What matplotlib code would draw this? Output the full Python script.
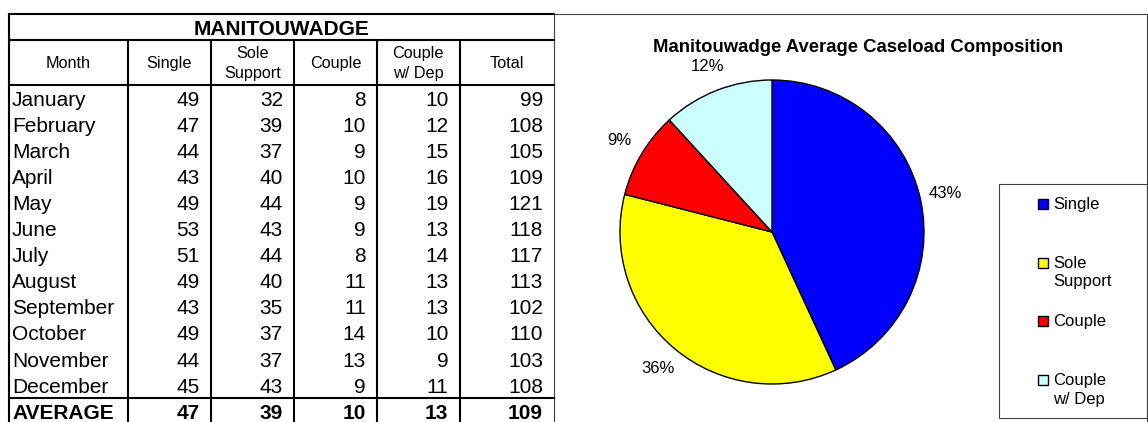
import matplotlib

matplotlib.use("Agg")
import matplotlib.pyplot as plt
from matplotlib.patches import Rectangle

MONTHS = ["January", "February", "March", "April", "May", "June", "July",
          "August", "September", "October", "November", "December"]
SINGLE = [49, 47, 44, 43, 49, 53, 51, 49, 43, 49, 44, 45]
SOLE_SUPPORT = [32, 39, 37, 40, 44, 43, 44, 40, 35, 37, 37, 43]
COUPLE = [8, 10, 9, 10, 9, 9, 8, 11, 11, 14, 13, 9]
COUPLE_DEP = [10, 12, 15, 16, 19, 13, 14, 13, 13, 10, 9, 11]
TOTAL = [99, 108, 105, 109, 121, 118, 117, 113, 102, 110, 103, 108]

HEADERS = ["Month", "Single", "Sole\nSupport", "Couple", "Couple\nw/ Dep", "Total"]
CATEGORIES = ["Single", "Sole\nSupport", "Couple", "Couple\nw/ Dep"]
COLORS = ["#0000FF", "#FFFF00", "#FF0000", "#CCFFFF"]

FONT = "Liberation Sans"
W, H = 1148, 422

# table layout (pixels)
COL_EDGES = [8.5, 127.5, 210.5, 294, 377, 459.5, 554]
TITLE_TOP, TITLE_BOTTOM, HEADER_BOTTOM = 13.5, 40, 85
ROW_H = 26.1
THICK = 1.5


def mean_int(values):
    return int(sum(values) / len(values) + 0.5)


def draw_table(bg):
    columns = [SINGLE, SOLE_SUPPORT, COUPLE, COUPLE_DEP, TOTAL]
    left, right = COL_EDGES[0], COL_EDGES[-1]
    avg_top = HEADER_BOTTOM + ROW_H * len(MONTHS)
    bottom = avg_top + ROW_H + 5

    # borders
    bg.plot([left, right], [TITLE_TOP, TITLE_TOP], color="black", lw=THICK)
    bg.plot([left, left], [TITLE_TOP, bottom], color="black", lw=THICK)
    for y in (TITLE_BOTTOM, HEADER_BOTTOM, avg_top):
        bg.plot([left, right], [y, y], color="black", lw=THICK)
    for x in COL_EDGES[1:-1]:
        bg.plot([x, x], [TITLE_BOTTOM, bottom], color="black", lw=THICK)

    bg.text((left + right) / 2, (TITLE_TOP + TITLE_BOTTOM) / 2 + 1, "MANITOUWADGE",
            ha="center", va="center_baseline", fontsize=15, fontweight="bold",
            family=FONT)

    for i, head in enumerate(HEADERS):
        bg.text((COL_EDGES[i] + COL_EDGES[i + 1]) / 2, (TITLE_BOTTOM + HEADER_BOTTOM) / 2 + 1,
                head, ha="center", va="center", fontsize=11.7, family=FONT,
                linespacing=1.35)

    rows = [(m, [c[r] for c in columns]) for r, m in enumerate(MONTHS)]
    rows.append(("AVERAGE", [mean_int(c) for c in columns]))
    for r, (label, vals) in enumerate(rows):
        y = HEADER_BOTTOM + ROW_H * (r + 0.5)
        weight = "bold" if label == "AVERAGE" else "normal"
        bg.text(COL_EDGES[0] + 3.5, y, label, ha="left", va="center_baseline",
                fontsize=15, fontweight=weight, family=FONT)
        for j, v in enumerate(vals):
            bg.text(COL_EDGES[j + 2] - 11, y, str(v), ha="right", va="center_baseline",
                    fontsize=15, fontweight=weight, family=FONT)


def draw_chart(fig, bg):
    # chart frame
    bg.add_patch(Rectangle((554, 13.5), 593, 430, fill=False, edgecolor="#404040", lw=0.8))
    bg.text(858, 45, "Manitouwadge Average Caseload Composition", ha="center",
            va="center_baseline", fontsize=13.3, fontweight="bold", family=FONT)

    averages = [sum(SINGLE), sum(SOLE_SUPPORT), sum(COUPLE), sum(COUPLE_DEP)]
    cx, cy, radius, half = 772, 232, 152, 200
    ax = fig.add_axes([(cx - half) / W, (H - cy - half) / H, 2 * half / W, 2 * half / H])
    ax.pie(averages, colors=COLORS, startangle=90, counterclock=False,
           autopct="%1.0f%%", pctdistance=1.17,
           wedgeprops={"edgecolor": "black", "linewidth": 1.0},
           textprops={"fontsize": 12, "family": FONT})
    lim = half / radius
    ax.set_xlim(-lim, lim)
    ax.set_ylim(-lim, lim)
    ax.axis("off")

    # legend box
    bg.add_patch(Rectangle((999, 184), 148, 234, fill=False, edgecolor="#404040", lw=0.8))
    for i, (label, color) in enumerate(zip(CATEGORIES, COLORS)):
        y = 204 + 58.7 * i
        bg.add_patch(Rectangle((1038, y - 5), 10, 10, facecolor=color,
                               edgecolor="black", lw=1.0))
        bg.text(1053, y - 7, label, ha="left", va="top", fontsize=12,
                family=FONT, linespacing=1.3)


def main():
    fig = plt.figure(figsize=(W / 100, H / 100), dpi=100)
    bg = fig.add_axes([0, 0, 1, 1])
    bg.set_xlim(0, W)
    bg.set_ylim(H, 0)
    bg.axis("off")
    draw_table(bg)
    draw_chart(fig, bg)
    fig.savefig("out.png", dpi=100)


if __name__ == "__main__":
    main()
